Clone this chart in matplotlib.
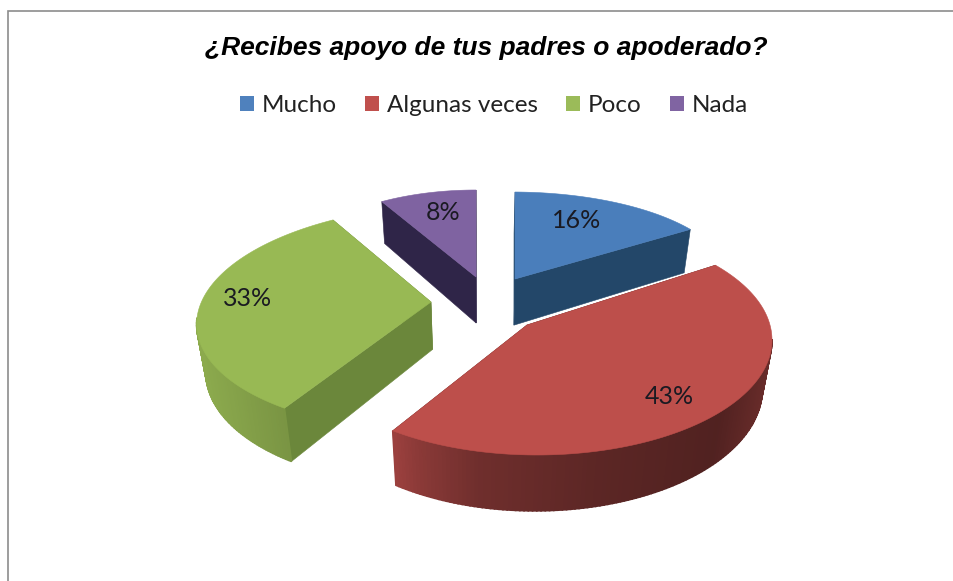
import numpy as np
import matplotlib
matplotlib.use("Agg")
import matplotlib.pyplot as plt
from matplotlib.patches import Polygon, Patch

categories = ["Mucho", "Algunas veces", "Poco", "Nada"]
percent = [16, 43, 33, 8]
title = "¿Recibes apoyo de tus padres o apoderado?"

top_colors = ["#4a7ebb", "#bd4f4b", "#98b954", "#7f63a1"]
cut_colors = ["#234769", "#5a1f1d", "#6b873b", "#2f2548"]
side_base = ["#234769", "#c0504d", "#98b954", "#2f2548"]
# apex x, apex y, ellipse cx, cy, rx, ry, shear, ray aspect for each slice
geometry = [
    (515, 279, 512, 280, 218, 88, 0.0, 0.446),
    (527, 325, 537, 340, 235, 115, 0.0, 0.50),
    (431, 302, 444, 318, 247, 113, -0.12, 0.46),
    (476, 277, 476, 278, 190, 88, 0.0, 0.44),
]
label_xy = [(577, 220), (669, 396), (248, 299), (443, 213)]
draw_order = [0, 3, 2, 1]


def depth(y):
    return 44 + (y - 240) * 0.055


def lower(pts):
    pts = np.asarray(pts, float)
    d = depth(pts[:, 1])
    return np.column_stack([pts[:, 0] + (480 - pts[:, 0]) * 0.035 * d / 52, pts[:, 1] + d])


def rim(thetas, g):
    ax_, ay_, ex, ey, rx, ry, k, r = g
    out = []
    for th in thetas:
        dx, dy = np.sin(th), -r * np.cos(th)
        a = np.array([(ax_ - k * (ay_ - ey) - ex) / rx, (ay_ - ey) / ry])
        b = np.array([(dx - k * dy) / rx, dy / ry])
        A, B, C = b @ b, 2 * a @ b, a @ a - 1
        t = (-B + np.sqrt(B * B - 4 * A * C)) / (2 * A)
        out.append((ax_ + t * dx, ay_ + t * dy))
    return np.array(out)


def shade(i, x):
    if i == 1:
        m = np.interp(x, [392, 420, 480, 600, 720, 772], [0.82, 0.72, 0.58, 0.48, 0.42, 0.55])
    elif i == 2:
        m = np.interp(x, [198, 230, 287], [0.92, 0.88, 0.80])
    else:
        m = 1.0
    return tuple(np.array(matplotlib.colors.to_rgb(side_base[i])) * m)


fig = plt.figure(figsize=(9.54, 5.81), dpi=100)
ax = fig.add_axes([0, 0, 1, 1])
ax.set_xlim(0, 954)
ax.set_ylim(581, 0)
ax.axis("off")
ax.plot([954, 8.5, 8.5], [10.5, 10.5, 581], color="#8c8c8c", lw=1.2, solid_joinstyle="miter")

fracs = np.array(percent, float) / sum(percent)
edges = np.concatenate([[0], np.cumsum(fracs)]) * 2 * np.pi

for i in draw_order:
    g = geometry[i]
    th = np.linspace(edges[i], edges[i + 1], 160)
    pts = rim(th, g)
    apex = np.array([g[0], g[1]], float)
    for end in (pts[0], pts[-1]):
        quad = [apex, end, lower([end])[0], lower([apex])[0]]
        ax.add_patch(Polygon(quad, closed=True, fc=cut_colors[i], ec=cut_colors[i], lw=0.4))
    low = lower(pts)
    for j in range(len(pts) - 1):
        if pts[j, 1] > g[3] or pts[j + 1, 1] > g[3]:
            c = shade(i, pts[j, 0])
            ax.add_patch(Polygon([pts[j], pts[j + 1], low[j + 1], low[j]], closed=True,
                                 fc=c, ec=c, lw=1.2))
    ax.add_patch(Polygon(np.vstack([apex, pts]), closed=True, fc=top_colors[i],
                         ec=top_colors[i], lw=0.4))

for p, (x, y) in zip(percent, label_xy):
    ax.text(x, y, f"{p}%", ha="center", va="center", fontsize=18, family="Lato",
            color="#1a1a22")

ax.text(486, 47.5, title, ha="center", va="center", fontsize=19, family="Liberation Sans",
        style="italic", weight="bold", color="#000000")

handles = [Patch(fc=c, ec="none") for c in ["#4f81bd", "#c0504d", "#9bbb59", "#8064a2"]]
ax.legend(handles, categories, loc="center", bbox_to_anchor=(494 / 954, 1 - 105.5 / 581),
          ncol=4, frameon=False, prop={"family": "Lato", "size": 17.5},
          handlelength=0.58, handleheight=0.58, handletextpad=0.33, columnspacing=1.15,
          labelcolor="#222222", borderpad=0, borderaxespad=0)

fig.savefig("out.png", dpi=100)
